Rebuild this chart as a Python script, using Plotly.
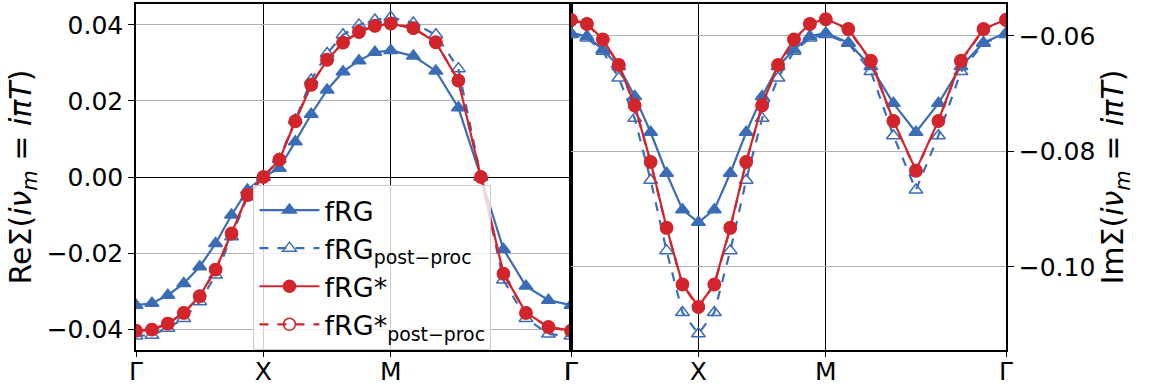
import numpy as np
import plotly.graph_objects as go

# k-path: Gamma -> X -> M -> Gamma, 8 intervals per segment
tick_labels = ["Γ", "X", "M", "Γ"]
segment_lengths = [1.0, 1.0, np.sqrt(2.0)]  # in units of pi
n_per_segment = 8

re_frg = [-0.0337, -0.0332, -0.0311, -0.0280, -0.0236, -0.0175, -0.0100, -0.0034, 0.0,
          0.0023, 0.0093, 0.0165, 0.0229, 0.0277, 0.0306, 0.0328, 0.0333,
          0.0318, 0.0279, 0.0182, 0.0, -0.0190, -0.0287, -0.0324, -0.0337]
re_frg_pp = [-0.0418, -0.0416, -0.0398, -0.0372, -0.0328, -0.0258, -0.0157, -0.0052, 0.0,
             0.0047, 0.0150, 0.0255, 0.0325, 0.0374, 0.0400, 0.0413, 0.0420,
             0.0405, 0.0374, 0.0285, 0.0, -0.0271, -0.0372, -0.0413, -0.0418]
re_frgs = [-0.0404, -0.0401, -0.0385, -0.0357, -0.0313, -0.0243, -0.0148, -0.0047, 0.0,
           0.0045, 0.0146, 0.0242, 0.0308, 0.0353, 0.0381, 0.0397, 0.0403,
           0.0391, 0.0354, 0.0253, 0.0, -0.0254, -0.0357, -0.0394, -0.0404]
re_frgs_pp = [-0.0405, -0.0402, -0.0386, -0.0358, -0.0314, -0.0244, -0.0149, -0.0048, 0.0,
              0.0046, 0.0147, 0.0243, 0.0309, 0.0354, 0.0382, 0.0398, 0.0404,
              0.0392, 0.0355, 0.0254, 0.0, -0.0255, -0.0358, -0.0395, -0.0405]

im_frg = [-0.0595, -0.0601, -0.0624, -0.0653, -0.0705, -0.0767, -0.0838, -0.0901, -0.0923,
          -0.0901, -0.0838, -0.0767, -0.0705, -0.0653, -0.0624, -0.0601, -0.0595,
          -0.0612, -0.0653, -0.0717, -0.0767, -0.0717, -0.0653, -0.0612, -0.0595]
im_frg_pp = [-0.0598, -0.0604, -0.0627, -0.0673, -0.0743, -0.0850, -0.0972, -0.1079, -0.1116,
             -0.1079, -0.0972, -0.0850, -0.0743, -0.0673, -0.0627, -0.0604, -0.0598,
             -0.0613, -0.0662, -0.0773, -0.0867, -0.0773, -0.0662, -0.0613, -0.0598]
im_frgs = [-0.0572, -0.0579, -0.0606, -0.0650, -0.0720, -0.0818, -0.0932, -0.1030, -0.1069,
           -0.1030, -0.0932, -0.0818, -0.0720, -0.0650, -0.0606, -0.0579, -0.0571,
           -0.0588, -0.0643, -0.0747, -0.0833, -0.0747, -0.0643, -0.0588, -0.0572]
im_frgs_pp = [-0.0573, -0.0580, -0.0607, -0.0651, -0.0721, -0.0819, -0.0933, -0.1031, -0.1070,
              -0.1031, -0.0933, -0.0819, -0.0721, -0.0651, -0.0607, -0.0580, -0.0572,
              -0.0589, -0.0644, -0.0748, -0.0834, -0.0748, -0.0644, -0.0589, -0.0573]

# path coordinate
tick_pos = [0.0]
for L in segment_lengths:
    tick_pos.append(tick_pos[-1] + L)
xs = [0.0]
for i, L in enumerate(segment_lengths):
    for j in range(1, n_per_segment + 1):
        xs.append(tick_pos[i] + L * j / n_per_segment)

BLUE = "#3B6DB6"
RED = "#D2252B"
FONT = "DejaVu Sans"

series = [
    ("fRG", re_frg, im_frg, BLUE, "solid", "triangle-up"),
    ("fRG<sub>post−proc</sub>", re_frg_pp, im_frg_pp, BLUE, "dash", "triangle-up-open"),
    ("fRG*", re_frgs, im_frgs, RED, "solid", "circle"),
    ("fRG*<sub>post−proc</sub>", re_frgs_pp, im_frgs_pp, RED, "dash", "circle-open"),
]

fig = go.Figure()
for name, re_v, im_v, col, dash, sym in series:
    msize = 12
    mline = dict(color=col, width=1.5)
    fig.add_trace(go.Scatter(x=xs, y=re_v, name=name, mode="lines+markers",
                             line=dict(color=col, width=2.2, dash=dash),
                             marker=dict(symbol=sym, size=msize, color=col, line=mline),
                             xaxis="x", yaxis="y", legendgroup=name))
    fig.add_trace(go.Scatter(x=xs, y=im_v, name=name, mode="lines+markers",
                             line=dict(color=col, width=2.2, dash=dash),
                             marker=dict(symbol=sym, size=msize, color=col, line=mline),
                             xaxis="x2", yaxis="y2", legendgroup=name, showlegend=False))

axis_common = dict(showline=True, mirror=True, linecolor="black", linewidth=1.5,
                   ticks="outside", ticklen=6, tickwidth=1.2, tickcolor="black",
                   automargin=False,
                   tickfont=dict(family=FONT, size=25, color="black"))

xa = dict(axis_common, range=[0, tick_pos[-1]], tickvals=tick_pos, ticktext=tick_labels,
          showgrid=True, gridcolor="black", gridwidth=1, zeroline=False,
          ticklen=5, ticklabelstandoff=-7)

fig.update_layout(
    width=1153, height=389,
    margin=dict(l=136, r=147, t=4, b=39),
    paper_bgcolor="white", plot_bgcolor="white",
    font=dict(family=FONT, color="black"),
    xaxis=dict(xa, domain=[0, 0.5], anchor="y"),
    xaxis2=dict(xa, domain=[0.5, 1.0], anchor="y2"),
    yaxis=dict(axis_common, anchor="x", range=[-0.0455, 0.0455],
               tickvals=[-0.04, -0.02, 0.0, 0.02, 0.04],
               ticktext=["−0.04", "−0.02", "0.00", "0.02", "0.04"],
               showgrid=True, gridcolor="#b0b0b0", gridwidth=1,
               zeroline=True, zerolinecolor="black", zerolinewidth=1,
               title=dict(text="ReΣ(<i>iν</i><sub><i>m</i></sub> = <i>iπT</i>)",
                          font=dict(family=FONT, size=30), standoff=6)),
    yaxis2=dict(axis_common, anchor="x2", side="right", range=[-0.1144, -0.0545],
                tickvals=[-0.10, -0.08, -0.06],
                ticktext=["−0.10", "−0.08", "−0.06"],
                showgrid=True, gridcolor="#b0b0b0", gridwidth=1, zeroline=False,
                title=dict(text="ImΣ(<i>iν</i><sub><i>m</i></sub> = <i>iπT</i>)",
                           font=dict(family=FONT, size=30), standoff=6)),
    legend=dict(x=0.135, y=0.0, xanchor="left", yanchor="bottom",
                bgcolor="rgba(255,255,255,0.8)", bordercolor="#cccccc", borderwidth=1,
                itemwidth=60,
                font=dict(family=FONT, size=27, color="black"), tracegroupgap=0),
    showlegend=True,
)

fig.write_html("out.html")
